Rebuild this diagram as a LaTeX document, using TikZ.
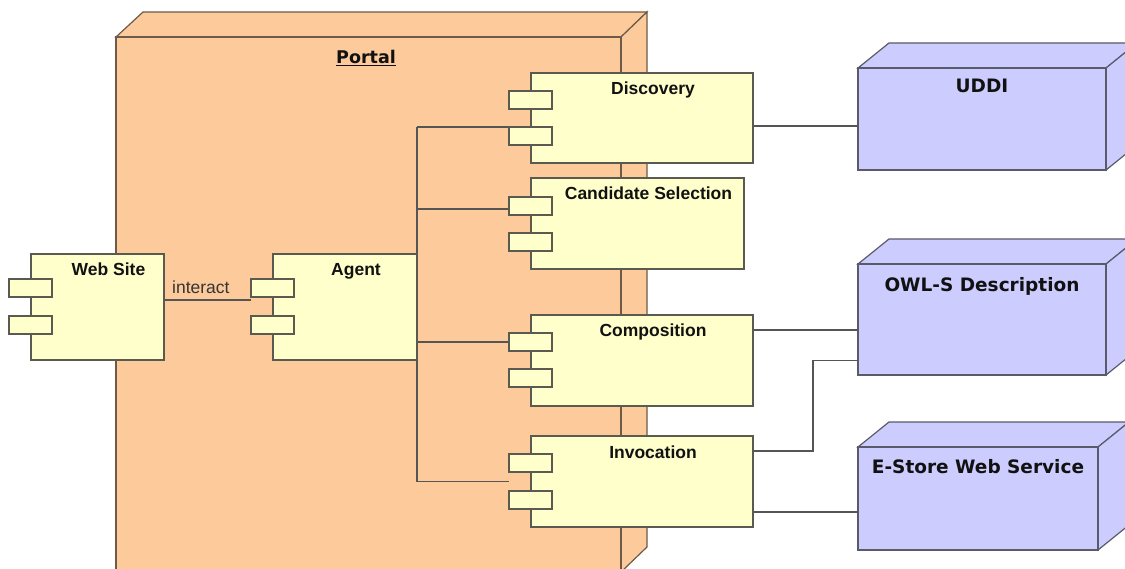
\documentclass[tikz,border=0pt]{standalone}
\usepackage{fontspec}
\setmainfont{Liberation Sans}
\newfontfamily\hostfont{DejaVu Sans}
\usetikzlibrary{calc}
\definecolor{portalfill}{HTML}{FDCA9B}
\definecolor{portalline}{HTML}{6E5A48}
\definecolor{compfill}{HTML}{FFFFCC}
\definecolor{compline}{HTML}{5A5A50}
\definecolor{hostfill}{HTML}{CCCCFF}
\definecolor{hostline}{HTML}{5A5A6A}
\definecolor{wire}{HTML}{555555}
\definecolor{ink}{HTML}{111111}
\pgfdeclarelayer{bg}
\pgfdeclarelayer{wires}
\pgfsetlayers{bg,wires,main}

\newcommand{\umlcomp}[8]{% name, x, y, w, h, port1 dy, port2 dy, title
  \node[compbox, minimum width=#4pt, minimum height=#5pt, anchor=north west] (#1) at (#2,#3) {};
  \node[portbox, anchor=north west] (#1-p1) at ($(#1.north west)+(-22,#6)$) {};
  \node[portbox, anchor=north west] (#1-p2) at ($(#1.north west)+(-22,#7)$) {};
  \pgfmathsetmacro{\ttx}{(#4+22)/2}
  \node[comptitle, anchor=base] (#1-t) at ($(#1.north west)+(\ttx,22)$) {#8};
}
\newcommand{\umlhost}[7]{% name, x, y, w, h, title baseline dy, title
  \path[hostface] (#2,#3) -- ++(31,-25) -- ++(#4,0) -- ++(-31,25) -- cycle;
  \path[hostface] (#2+#4,#3) -- ++(31,-25) -- ++(0,#5) -- ++(-31,25) -- cycle;
  \node[hostbox, minimum width=#4pt, minimum height=#5pt, anchor=north west] (#1) at (#2,#3) {};
  \pgfmathsetmacro{\ttx}{#4/2}
  \node[hosttitle, anchor=base] (#1-t) at ($(#1.north west)+(\ttx,#6)$) {#7};
}

\begin{document}
\begin{tikzpicture}[x=1pt, y=-1pt, line join=miter,
  compbox/.style={draw=compline, fill=compfill, line width=1.2pt, inner sep=0pt, outer sep=0pt},
  portbox/.style={draw=compline, fill=compfill, line width=1.2pt, inner sep=0pt, outer sep=0pt,
    minimum width=43pt, minimum height=18pt},
  comptitle/.style={font=\bfseries\fontsize{17.5}{20}\selectfont, text=ink, inner sep=0pt},
  hostbox/.style={draw=hostline, fill=hostfill, line width=1.2pt, inner sep=0pt, outer sep=0pt},
  hostface/.style={draw=hostline, fill=hostfill, line width=1.2pt},
  hosttitle/.style={font=\hostfont\bfseries\fontsize{18.5}{21}\selectfont, text=ink, inner sep=0pt},
  portalface/.style={draw=portalline, fill=portalfill, line width=1.2pt},
  wire/.style={draw=wire, line width=1.1pt}]

\useasboundingbox (0,0) rectangle (1125,569);

\begin{pgfonlayer}{bg}
\fill[white] (0,0) rectangle (1125,569);
% Portal node
\path[portalface] (116,37) -- (143,12) -- (647,12) -- (621,37) -- cycle;
\path[portalface] (621,37) -- (647,12) -- (647,547) -- (621,572) -- cycle;
\node[draw=portalline, fill=portalfill, line width=1.2pt, inner sep=0pt, outer sep=0pt,
  minimum width=505pt, minimum height=535pt, anchor=north west] (portal) at (116,37) {};
\node[font=\hostfont\bfseries\fontsize{17.5}{20}\selectfont, text=ink, inner sep=0pt, anchor=base]
  (portal-t) at (366,64) {\underline{Portal}};
% hosts
\umlhost{uddi}{858}{68}{248}{102}{25}{UDDI}
\umlhost{owl}{858}{264}{248}{111}{28}{OWL-S Description}
\umlhost{estore}{858}{447}{240}{103}{26}{E-Store Web Service}
\end{pgfonlayer}

% components
\umlcomp{ws}{31}{254}{133}{106}{25}{62}{Web Site}
\umlcomp{agent}{273}{254}{144}{106}{25}{62}{Agent}
\umlcomp{disc}{531}{73}{222}{90}{18}{54}{Discovery}
\umlcomp{cand}{531}{178}{213}{91}{19}{55}{Candidate Selection}
\umlcomp{comp}{531}{315}{222}{91}{18}{54}{Composition}
\umlcomp{inv}{531}{436}{222}{91}{18}{55}{Invocation}

\node[font=\fontsize{17.5}{20}\selectfont, text=ink!85, inner sep=0pt, anchor=base west]
  (interact) at (172,294) {interact};

% connectors
\begin{pgfonlayer}{wires}
\coordinate (wsout) at ($(ws.east)+(0,-7)$);
\draw[wire] (wsout) -- (agent-p1.west |- wsout);
\coordinate (trunktop) at (agent.east |- disc-p2.north west);
\coordinate (candy) at ($(cand-p1.west)+(0,3)$);
\coordinate (invy) at ($(inv-p1.south west)!0.5!(inv-p2.north west)$);
\coordinate (trunkbot) at (agent.east |- invy);
\draw[wire] (trunktop) -- (trunkbot);
\draw[wire] (trunktop) -- (disc-p2.north west);
\draw[wire] (agent.east |- candy) -- (candy);
\draw[wire] (agent.east |- comp-p1.west) -- (comp-p1.west);
\draw[wire] (trunkbot) -- (inv-p1.west |- invy);
\coordinate (discout) at ($(disc.east)+(0,8)$);
\draw[wire] (discout) -- (uddi.west |- discout);
\coordinate (compout) at ($(comp.north east)+(0,15)$);
\draw[wire] (compout) -- (owl.west |- compout);
\coordinate (invout) at ($(inv.north east)+(0,15)$);
\coordinate (bend) at ($(owl.west)+(-45,41)$);
\draw[wire] (invout) -| (bend) -- (owl.west |- bend);
\coordinate (invout2) at ($(inv.south east)+(0,-15)$);
\draw[wire] (invout2) -- (estore.west |- invout2);
\end{pgfonlayer}
\end{tikzpicture}
\end{document}
